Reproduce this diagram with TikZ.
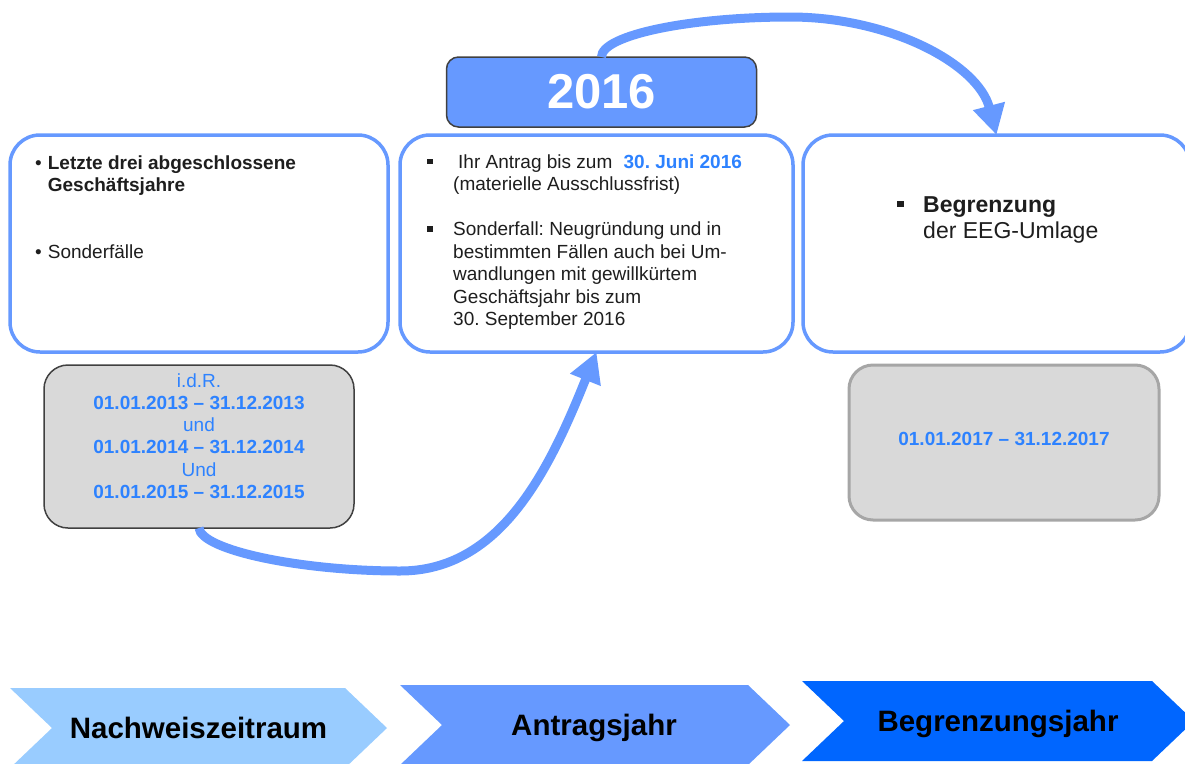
\documentclass[tikz,border=0pt]{standalone}
\usepackage{fontspec}
\setmainfont{Liberation Sans}
\usetikzlibrary{positioning}
\usetikzlibrary{arrows.meta}
\definecolor{midblue}{RGB}{102,153,255}
\definecolor{lightblue}{RGB}{153,204,255}
\definecolor{deepblue}{RGB}{0,102,255}
\definecolor{dateblue}{RGB}{45,130,255}
\definecolor{greyfill}{RGB}{217,217,217}
\definecolor{darktext}{RGB}{30,30,30}
\tikzstyle{B} = [rectangle,rounded corners=30pt,draw=midblue,line width=3.5pt,fill=white,minimum height=217pt,inner sep=0pt,outer sep=0pt]
\tikzstyle{G} = [rectangle,rounded corners=24pt,fill=greyfill,draw=black!75,line width=1.5pt,minimum width=310pt,inner sep=0pt,outer sep=0pt]
\tikzstyle{H} = [rectangle,rounded corners=12pt,fill=midblue,draw=black!75,line width=1.5pt,minimum width=310pt,minimum height=70pt,inner sep=0pt,outer sep=0pt,text=white,font=\fontsize{49}{49}\selectfont\bfseries]
\tikzstyle{T} = [inner sep=0pt,anchor=north west,text=darktext,font=\fontsize{19}{22.4}\selectfont]
\tikzstyle{D} = [inner sep=0pt,text=dateblue,font=\fontsize{19}{22.2}\selectfont]
\tikzstyle{C} = [anchor=base,inner sep=0pt,font=\fontsize{29.5}{30}\selectfont\bfseries]
\tikzstyle{F} = [->,draw=midblue,line width=9pt]
\tikzset{>={Triangle[length=30pt,width=31pt]}}
\newcommand{\sqbul}{\rule[0.22em]{0.28em}{0.28em}}
\frenchspacing

\begin{document}
\begin{tikzpicture}[x=1pt,y=-1pt]
  \useasboundingbox (0,0) rectangle (1185,763);
  \clip (0,0) rectangle (1185,763);

  \node [B,minimum width=393pt] (b2) at (596.5,243.5) {};
  \node [B,minimum width=378pt,left=12pt of b2] (b1) {};
  \node [B,minimum width=387pt,right=10pt of b2] (b3) {};
  \node [H,above=8pt of b2,xshift=5pt] (yr) {2016};
  \node [G,minimum height=163pt,below=13pt of b1] (g1) {};
  \node [G,minimum height=155pt,draw=black!35,line width=3pt,below=13pt of b3,xshift=7.5pt] (g2) {};

  \node [T] (t1) at ([xshift=25pt,yshift=-18.3pt]b1.north west) {\begin{tabular}{@{}l@{\hspace{6pt}}l@{}}
      \textbullet & \textbf{Letzte drei abgeschlossene}\\
      & \textbf{Geschäftsjahre}\\[44.6pt]
      \textbullet & Sonderfälle
    \end{tabular}};
  \node [T,font=\fontsize{19}{22.5}\selectfont] (t2) at ([xshift=27pt,yshift=-17.3pt]b2.north west) {\begin{tabular}{@{}p{26pt}@{}l@{}}
      \sqbul & \hspace{5pt}Ihr Antrag bis zum \hspace{6pt}\textcolor{dateblue}{\textbf{30. Juni 2016}}\\
      & (materielle Ausschlussfrist)\\[22.5pt]
      \sqbul & Sonderfall: Neugründung und in\\
      & bestimmten Fällen auch bei Um-\\
      & wandlungen mit gewillkürtem\\
      & Geschäftsjahr bis zum\\
      & 30. September 2016
    \end{tabular}};
  \node [T,font=\fontsize{23}{26}\selectfont] (t3) at ([xshift=94pt,yshift=-58.8pt]b3.north west) {\begin{tabular}{@{}p{26pt}@{}l@{}}
      \sqbul & \textbf{Begrenzung}\\
      & der EEG-Umlage
    \end{tabular}};

  \node [D,anchor=north] (t4) at ([yshift=-6.5pt]g1.north) {\begin{tabular}{@{}c@{}}
      i.d.R.\\
      \textbf{01.01.2013 – 31.12.2013}\\
      und\\
      \textbf{01.01.2014 – 31.12.2014}\\
      Und\\
      \textbf{01.01.2015 – 31.12.2015}
    \end{tabular}};
  \node [D,anchor=base,yshift=-2.5pt] (t5) at (g2.center) {\textbf{01.01.2017 – 31.12.2017}};

  \coordinate (low) at (400,571);
  \coordinate (high) at (790,17);
  \draw [F] (g1.south) .. controls +(2,22) and +(-100,0) .. (low) .. controls +(100,0) and +(-48,120) .. (b2.south);
  \draw [F] (yr.north) .. controls +(0,-22) and +(-100,0) .. (high) .. controls +(100,0) and +(-18.5,-71) .. (b3.north);

  \fill [lightblue] (10,688) -- (345,688) -- (387,728) -- (345,768) -- (10,768) -- (52,728) -- cycle;
  \node [C] (c1) at (198.5,738) {Nachweiszeitraum};
  \fill [midblue] (400,685) -- (748,685) -- (790,725) -- (748,765) -- (400,765) -- (442,725) -- cycle;
  \node [C] (c2) at (594,735) {Antragsjahr};
  \fill [deepblue] (802,681) -- (1152,681) -- (1194,721) -- (1152,761) -- (802,761) -- (844,721) -- cycle;
  \node [C] (c3) at (998,731) {Begrenzungsjahr};
\end{tikzpicture}
\end{document}
